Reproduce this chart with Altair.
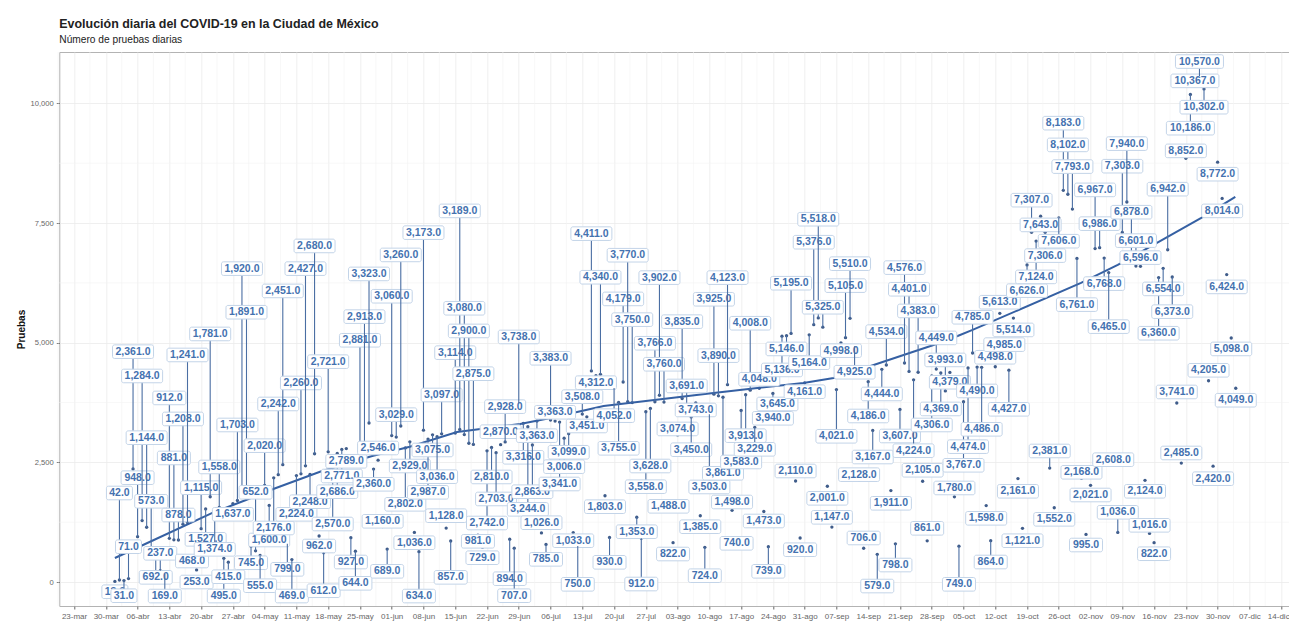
import altair as alt
import pandas as pd

titulo = "Evolución diaria del COVID-19 en la Ciudad de México"
subtitulo = "Número de pruebas diarias"

etiquetas_x = ["23-mar","30-mar","06-abr","13-abr","20-abr","27-abr","04-may","11-may","18-may","25-may",
               "01-jun","08-jun","15-jun","22-jun","29-jun","06-jul","13-jul","20-jul","27-jul","03-ago",
               "10-ago","17-ago","24-ago","31-ago","07-sep","14-sep","21-sep","28-sep","05-oct","12-oct",
               "19-oct","26-oct","02-nov","09-nov","16-nov","23-nov","30-nov","07-dic","14-dic"]

primer_dia = 9
pruebas = [
 13,42,31,71,2361,948,1284,1144,573,692,
 237,169,912,881,878,1208,1241,468,253,1115,
 1527,1781,1374,1558,495,415,1637,1703,1920,1891,
 745,652,555,2020,1600,2176,2242,2451,799,469,
 2224,2260,2427,2248,2680,962,612,2721,2570,2686,
 2771,2789,927,644,2881,2913,3323,2360,2546,1160,
 689,3060,3029,3260,2802,2929,1036,634,3173,2987,
 3075,3036,3097,1128,857,3114,3189,3080,2900,2875,
 981,729,2742,2810,2703,2870,2928,894,707,3738,
 3316,3244,2863,3363,1026,785,3383,3363,3341,3006,
 3099,1033,750,3508,3451,4411,4312,4340,1803,930,
 4052,3755,4179,3770,3750,1353,912,3558,3628,3766,
 3902,3760,1488,822,3074,3835,3691,3450,3743,1385,
 724,3503,3925,3890,3861,4123,1498,740,3583,3913,
 4008,3229,4048,1473,739,3940,3645,5136,5146,5195,
 2110,920,4161,5164,5376,5518,5325,2001,1147,4021,
 4998,5105,5510,4925,2128,706,4186,3167,579,4444,
 4534,1911,798,3607,4576,4401,4224,4383,2105,861,
 4306,4449,4369,3993,4379,1780,749,3767,4474,4785,
 4490,4486,1598,864,4498,5613,4985,4427,5514,2161,
 1121,6626,7307,7124,7643,7306,2381,1552,7606,8183,
 8102,7793,6761,2168,995,2021,6967,6986,6768,6465,
 2608,1036,7303,7940,6878,6601,6596,2124,1016,822,
 6360,6554,6942,6373,3741,2485,8852,10186,10367,10570,
 10302,4205,2420,8772,8014,6424,5098,4049]

# height at which each repelled label sits, in test units
etiqueta_y = [
 -203,1860,-286,738,4813,2180,4305,3016,1687,98,
 600,-293,3846,2592,1400,3407,4744,439,0,1971,
 892,5183,683,2404,-293,111,1415,3281,6548,5637,
 403,1875,-77,2849,878,1129,3720,6082,265,-293,
 1415,4159,6548,1678,7022,752,-182,4604,1212,1887,
 2215,2523,418,-27,5051,5545,6437,2042,2800,1269,
 224,5971,3497,6834,1624,2424,821,-293,7300,1875,
 2759,2201,3908,1386,98,4792,7754,5720,5246,4353,
 851,508,1233,2195,1735,3141,3664,69,-286,5120,
 2606,1519,1887,3058,1239,474,4675,3547,2048,2410,
 2711,863,-48,3873,3260,7279,4165,6368,1574,412,
 3476,2794,5915,6828,5482,1051,-42,1992,2424,4989,
 6360,4550,1582,585,3198,5440,4096,2765,3595,1156,
 132,1986,5908,4730,2272,6360,1672,809,2508,3058,
 5407,2773,4236,1275,224,3421,3720,4431,4870,6243,
 2320,675,3977,4583,7100,7580,5741,1749,1352,3045,
 4834,6193,6652,4383,2243,920,3469,2612,-84,3929,
 5231,1645,355,3051,6569,6117,2744,5664,2335,1122,
 3281,5100,3616,4640,4174,1965,-48,2439,2828,5532,
 3992,3191,1331,418,4696,5846,4960,3609,5267,1896,
 863,6088,7978,6375,7461,6820,2738,1310,7121,9587,
 9133,8680,5796,2293,773,1818,8193,7488,6235,5336,
 2556,1457,8688,9160,7727,7133,6778,1896,1185,591,
 5198,6124,8208,5649,3971,2696,9008,9482,10471,10874,
 9921,4424,2159,8521,7754,6166,4870,3798]

tendencia_dia = [9,15.2,30.6,37.9,43.9,54.2,65.7,74,84.4,98.3,105,116.7,140.9,160.7,167.4,176.2,189.4,194.7,198,221.9,230,248.4,255.9]
tendencia_val = [502,773,1448,1714,1944,2305,2633,2828,3135,3302,3428,3678,3950,4160,4264,4535,4953,5141,5267,6249,6625,7608,8047]

AZUL = "#4472b0"
LINEA = "#4a6ea3"
PUNTO = "#3f5c8a"
TENDENCIA = "#3560a3"
BORDE = "#c3d4e8"
FUENTE = "Liberation Sans"

PLOT_W, PLOT_H = 1229.7, 554
X_DOM = [-3.25, 267.73]
Y_DOM = [-501, 11074]
px_dia = PLOT_W / (X_DOM[1] - X_DOM[0])
px_val = PLOT_H / (Y_DOM[1] - Y_DOM[0])

df = pd.DataFrame({"dia": list(range(primer_dia, primer_dia + len(pruebas))),
                   "v": pruebas, "ly": etiqueta_y})
df["txt"] = df["v"].map(lambda v: f"{v:,.1f}")
ancho = {4: 13, 5: 16.5, 7: 20.5, 8: 24}
df["hw"] = df["txt"].map(lambda s: ancho[len(s)]) / px_dia
df["x1"] = df["dia"] - df["hw"]
df["x2"] = df["dia"] + df["hw"]
df["y1"] = df["ly"] - 6.8 / px_val
df["y2"] = df["ly"] + 6.8 / px_val
df["seg"] = (df["v"] - df["ly"]).abs() > 13 / px_val
df = df.drop(columns="hw")

xs = alt.Scale(domain=X_DOM, nice=False, zero=False)
ys = alt.Scale(domain=Y_DOM, nice=False, zero=False)

def X(campo):
    return alt.X(campo, scale=xs, title=None)

def Y(campo):
    return alt.Y(campo, scale=ys)

expr_x = "[" + ",".join(f"'{e}'" for e in etiquetas_x) + "][round(datum.value/7)]"
eje_x = alt.Axis(values=[7 * i for i in range(len(etiquetas_x))], labelExpr=expr_x, title=None, tickCount=200,
                 grid=True, gridColor="#ebebeb", gridWidth=0.8, domain=False, tickSize=3, tickColor="#666666",
                 labelFont=FUENTE, labelFontSize=8, labelColor="#666666", labelPadding=3,
                 labelFlush=10, labelFlushOffset=8)
eje_y = alt.Axis(values=[0, 2500, 5000, 7500, 10000], format=",d", title="Pruebas",
                 grid=True, gridColor="#ebebeb", gridWidth=0.8, domain=False, tickSize=3, tickColor="#666666",
                 labelFont=FUENTE, labelFontSize=7.6, labelColor="#666666", labelPadding=3,
                 titleFont=FUENTE, titleFontSize=10, titleFontWeight="bold", titleColor="#111111", titlePadding=4)

base = alt.Chart(pd.DataFrame({"dia": [0], "v": [0]})).mark_point(opacity=0).encode(
    x=alt.X("dia:Q", scale=xs, axis=eje_x), y=alt.Y("v:Q", scale=ys, axis=eje_y))

menores_x = alt.Chart(pd.DataFrame({"dia": [3.5 + 7 * i for i in range(-1, 38)]})).mark_rule(color="#f3f3f3", strokeWidth=0.6).encode(
    x=X("dia:Q"))
menores_y = alt.Chart(pd.DataFrame({"v": [1250, 3750, 6250, 8750]})).mark_rule(color="#f3f3f3", strokeWidth=0.6).encode(
    y=Y("v:Q"))

puntos = alt.Chart(df).mark_circle(size=11, color=PUNTO, opacity=1).encode(x=X("dia:Q"), y=Y("v:Q"))
linea = alt.Chart(pd.DataFrame({"dia": tendencia_dia, "v": tendencia_val})).mark_line(color=TENDENCIA, strokeWidth=2).encode(
    x=X("dia:Q"), y=Y("v:Q"))

capas = [base, menores_x, menores_y, puntos, linea]
comun = alt.Chart(df)
for fila in df.itertuples():
    f = f"datum.dia=={fila.dia}"
    if fila.seg:
        capas.append(comun.transform_filter(f).mark_rule(color=LINEA, strokeWidth=1.1).encode(
            x=X("dia:Q"), y=Y("v:Q"), y2="ly:Q"))
    capas.append(comun.transform_filter(f).mark_rect(fill="white", stroke=BORDE, strokeWidth=1, cornerRadius=2).encode(
        x=X("x1:Q"), x2="x2:Q", y=Y("y1:Q"), y2="y2:Q"))
    capas.append(comun.transform_filter(f).mark_text(font=FUENTE, fontSize=10.5, fontWeight="bold", color=AZUL, baseline="middle", align="center").encode(
        x=X("dia:Q"), y=Y("ly:Q"), text="txt:N"))

chart = alt.layer(*capas).properties(
    width=PLOT_W, height=PLOT_H, background="white",
    autosize=alt.AutoSizeParams(type="none"),
    padding={"left": 51.3, "top": 44, "right": 0, "bottom": 16},
    title=alt.TitleParams(text=titulo, subtitle=subtitulo, anchor="start", frame="group", offset=7,
                          font=FUENTE, fontSize=12.45, fontWeight="bold", color="#222222",
                          subtitleFont=FUENTE, subtitleFontSize=10.2, subtitleColor="#222222", subtitlePadding=4),
).configure_view(stroke="#b3b3b3", strokeWidth=1).configure_axis(labelOverlap=False)

chart.save("out.html", embed_options={"renderer": "svg", "actions": False})
